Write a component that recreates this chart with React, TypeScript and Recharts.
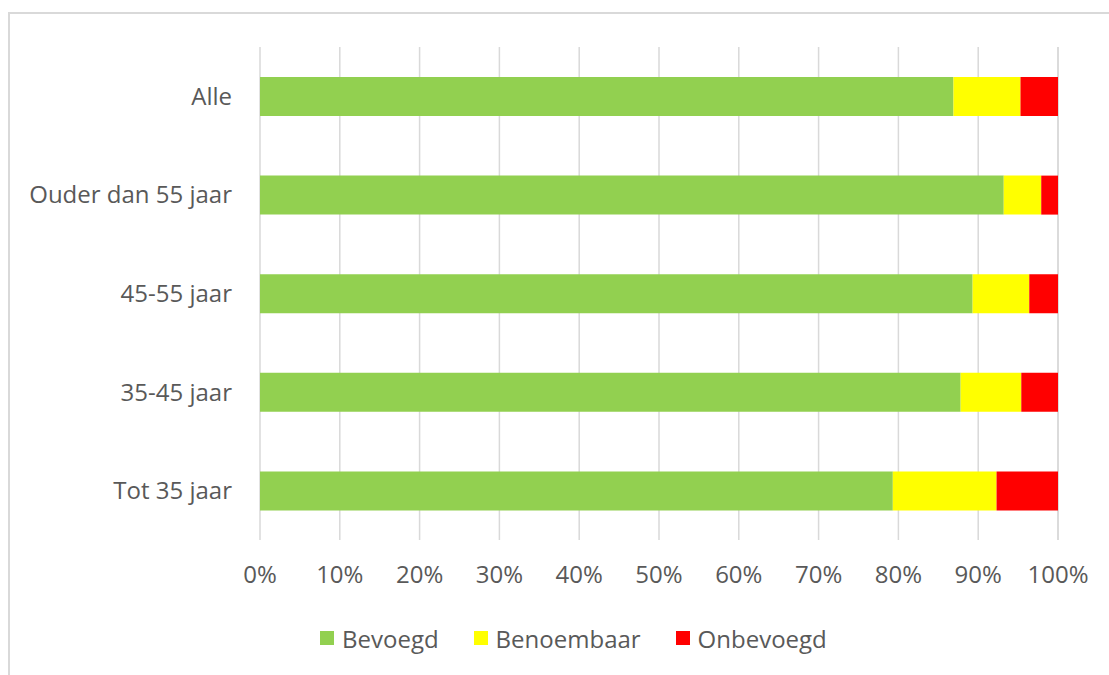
import React from "react";
import { BarChart, Bar, XAxis, YAxis, CartesianGrid, Legend } from "recharts";

const categories = ["Alle", "Ouder dan 55 jaar", "45-55 jaar", "35-45 jaar", "Tot 35 jaar"];
const bevoegd = [86.9, 93.2, 89.3, 87.8, 79.3];
const benoembaar = [8.4, 4.7, 7.1, 7.6, 13.0];
const onbevoegd = [4.7, 2.1, 3.6, 4.6, 7.7];
const xTicks = [0, 10, 20, 30, 40, 50, 60, 70, 80, 90, 100];

const seriesNames = ["Bevoegd", "Benoembaar", "Onbevoegd"];
const seriesColors = ["#92D050", "#FFFF00", "#FF0000"];

const data = categories.map((name, i) => ({
  name,
  Bevoegd: bevoegd[i],
  Benoembaar: benoembaar[i],
  Onbevoegd: onbevoegd[i],
}));

const FONT = "'Open Sans', sans-serif";
const TEXT = "#595959";

const LegendContent = () => (
  <div
    style={{
      display: "flex",
      alignItems: "center",
      height: 40,
      paddingLeft: 320,
      fontFamily: FONT,
      fontSize: 24,
      color: TEXT,
    }}
  >
    {seriesNames.map((n, i) => (
      <div key={n} style={{ display: "flex", alignItems: "center", marginRight: 35 }}>
        <span
          style={{
            display: "inline-block",
            width: 14,
            height: 14,
            background: seriesColors[i],
            marginRight: 8,
          }}
        />
        <span>{n}</span>
      </div>
    ))}
  </div>
);

export default function App() {
  return (
    <div style={{ position: "absolute", top: 0, left: 0, width: 1109, height: 675, background: "#fff", overflow: "hidden" }}>
      <div
        style={{
          position: "absolute",
          left: 8,
          top: 12,
          right: -10,
          bottom: -10,
          borderTop: "2px solid #d9d9d9",
          borderLeft: "2px solid #d9d9d9",
        }}
      />
      <div style={{ position: "absolute", top: 0, left: 0 }}>
        <BarChart
          width={1109}
          height={675}
          data={data}
          layout="vertical"
          margin={{ top: 47, right: 51, bottom: 35, left: 0 }}
          barSize={39}
        >
          <CartesianGrid horizontal={false} stroke="#d9d9d9" strokeWidth={1.5} />
          <XAxis
            type="number"
            domain={[0, 100]}
            ticks={xTicks}
            tickFormatter={(v) => `${v}%`}
            axisLine={false}
            tickLine={false}
            tickMargin={20}
            height={60}
            interval={0}
            tick={{ fill: TEXT, fontSize: 24, fontFamily: FONT }}
          />
          <YAxis
            type="category"
            dataKey="name"
            width={260}
            axisLine={false}
            tickLine={false}
            tickMargin={22}
            interval={0}
            tick={{ fill: TEXT, fontSize: 24, fontFamily: FONT }}
          />
          <Legend
            verticalAlign="bottom"
            content={<LegendContent />}
            wrapperStyle={{ top: 618, left: 0, width: 1109, height: 40, bottom: "auto" }}
          />
          {seriesNames.map((n, i) => (
            <Bar key={n} dataKey={n} stackId="a" fill={seriesColors[i]} isAnimationActive={false} />
          ))}
        </BarChart>
      </div>
    </div>
  );
}
